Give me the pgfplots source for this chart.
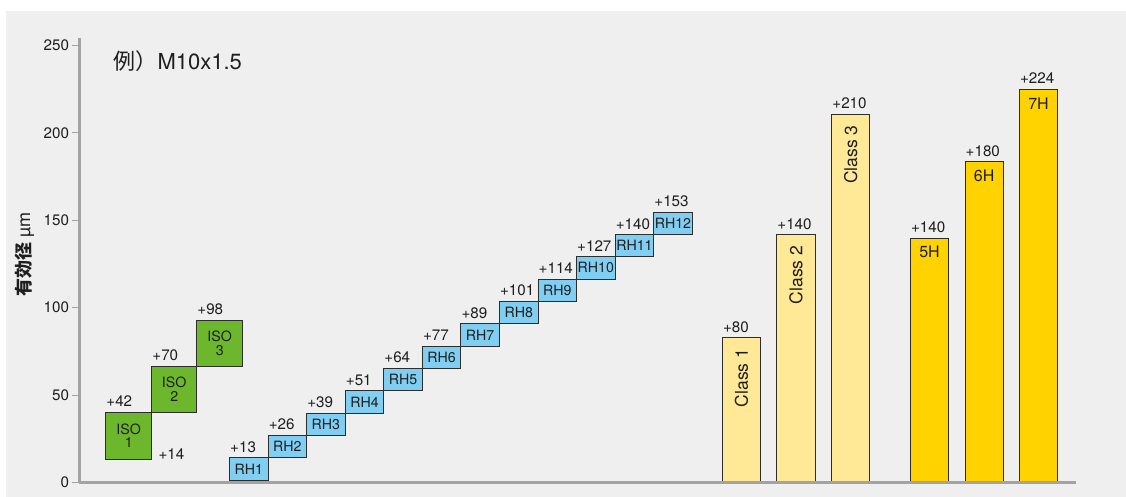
\documentclass[border=0pt]{standalone}
\usepackage{pgfplots}
\pgfplotsset{compat=1.18}
\usetikzlibrary{calc}
\usepackage{fontspec}
\setmainfont{TeX Gyre Heros}
\newfontfamily\cjk{Noto Sans CJK JP}
\definecolor{bg}{RGB}{239,239,239}
\definecolor{axgray}{RGB}{163,163,163}
\definecolor{isog}{RGB}{109,183,44}
\definecolor{rhb}{RGB}{128,206,242}
\definecolor{clsy}{RGB}{255,233,150}
\definecolor{hgold}{RGB}{255,210,0}
\definecolor{edge}{RGB}{45,45,45}
\definecolor{txt}{RGB}{30,30,30}
\newcommand\fs[1]{\fontsize{#1}{#1}\selectfont}
% floating box: xl, xr, lo, hi, fill, inner text, top label
\newcommand\flbox[7]{%
  \addplot[draw=edge, line width=1pt, line join=miter, fill=#5] coordinates {(#1,#3) (#2,#3) (#2,#4) (#1,#4)} --cycle;
  \node[inner sep=0pt, align=center, text=txt, font=\fontsize{14.2}{13.5}\selectfont] at ($(axis cs:#1,#3)!0.5!(axis cs:#2,#4)$) {#6};
  \node[inner sep=0pt, anchor=base west, text=txt, font=\fs{15.2}] at ($(axis cs:#1,#4)+(0.5pt,5.5pt)$) {#7};
}
% bar from zero: xl, xr, hi, fill, top label
\newcommand\vbar[5]{%
  \addplot[draw=edge, line width=1pt, line join=miter, fill=#4] coordinates {(#1,0) (#2,0) (#2,#3) (#1,#3)} --cycle;
  \node[inner sep=0pt, anchor=base west, text=txt, font=\fs{15.2}] at ($(axis cs:#1,#3)+(0.5pt,5.5pt)$) {#5};
}
\begin{document}
\begin{tikzpicture}
\path (0,0) rectangle (1126pt,497pt);
\fill[bg] (6pt,0) rectangle (1126pt,486pt);
\begin{axis}[
  at={(79.2pt,14.5pt)}, anchor=south west,
  scale only axis, width=996.5pt, height=444.2pt,
  xmin=79.2, xmax=1075.7, ymin=0, ymax=254,
  axis lines*=left,
  axis line style={draw=axgray, line width=3pt},
  xtick=\empty,
  ytick={0,50,100,150,200,250},
  tick align=outside,
  major tick length=7.5pt,
  ytick style={draw=axgray, line width=1pt},
  yticklabel style={font=\fs{15.2}, text=txt, inner sep=0pt, xshift=-2.5pt},
  /pgf/number format/assume math mode=true,
  axis on top,
  clip=false,
]
% ISO boxes
\flbox{105.7}{151.7}{13.4}{40.1}{isog}{ISO\\1}{+42}
\flbox{151.7}{196.7}{40.1}{66.4}{isog}{ISO\\2}{+70}
\flbox{196.7}{242.7}{66.4}{92.7}{isog}{ISO\\3}{+98}
\node[inner sep=0pt, anchor=base west, text=txt, font=\fs{15.2}] at ($(axis cs:151.7,13.4)+(6.6pt,0pt)$) {+14};
% RH boxes
\flbox{229.5}{268.1}{1.4}{14.2}{rhb}{RH1}{+13}
\flbox{268.1}{306.6}{14.2}{26.9}{rhb}{RH2}{+26}
\flbox{306.6}{345.2}{26.9}{39.7}{rhb}{RH3}{+39}
\flbox{345.2}{383.7}{39.7}{52.5}{rhb}{RH4}{+51}
\flbox{383.7}{422.3}{52.5}{65.3}{rhb}{RH5}{+64}
\flbox{422.3}{460.9}{65.3}{78.0}{rhb}{RH6}{+77}
\flbox{460.9}{499.4}{78.0}{90.8}{rhb}{RH7}{+89}
\flbox{499.4}{538.0}{90.8}{103.6}{rhb}{RH8}{+101}
\flbox{538.0}{576.5}{103.6}{116.3}{rhb}{RH9}{+114}
\flbox{576.5}{615.1}{116.3}{129.1}{rhb}{RH10}{+127}
\flbox{615.1}{653.7}{129.1}{141.8}{rhb}{RH11}{+140}
\flbox{653.7}{692.2}{141.8}{154.6}{rhb}{RH12}{+153}
% Class bars
\vbar{722.3}{760.7}{82.8}{clsy}{+80}
\vbar{776.7}{815.3}{141.7}{clsy}{+140}
\vbar{831.7}{869.7}{210.5}{clsy}{+210}
\node[rotate=90, anchor=east, inner sep=0pt, text=txt, font=\fs{17.5}] at ($(axis cs:741.5,82.8)+(0pt,-11pt)$) {Class 1};
\node[rotate=90, anchor=east, inner sep=0pt, text=txt, font=\fs{17.5}] at ($(axis cs:796.0,141.7)+(0pt,-11pt)$) {Class 2};
\node[rotate=90, anchor=east, inner sep=0pt, text=txt, font=\fs{17.5}] at ($(axis cs:850.7,210.5)+(0pt,-11pt)$) {Class 3};
% H bars
\vbar{910.3}{948.7}{139.8}{hgold}{+140}
\vbar{965.0}{1003.3}{183.3}{hgold}{+180}
\vbar{1019.3}{1057.7}{224.8}{hgold}{+224}
\node[anchor=north, inner sep=0pt, text=txt, font=\fs{16}] at ($(axis cs:929.5,139.8)+(0pt,-8pt)$) {5H};
\node[anchor=north, inner sep=0pt, text=txt, font=\fs{16}] at ($(axis cs:984.2,183.3)+(0pt,-8pt)$) {6H};
\node[anchor=north, inner sep=0pt, text=txt, font=\fs{16}] at ($(axis cs:1038.5,224.8)+(0pt,-8pt)$) {7H};
\end{axis}
\node[anchor=base west, inner sep=0pt, text=txt, font=\fs{22}] at (113.3pt,427.7pt) {{\cjk 例）}M10x1.5};
\node[rotate=90, anchor=center, inner sep=0pt, text=txt, font=\fs{18}] at (24.5pt,242pt) {{\cjk\bfseries 有効径} µm};
\end{tikzpicture}
\end{document}
